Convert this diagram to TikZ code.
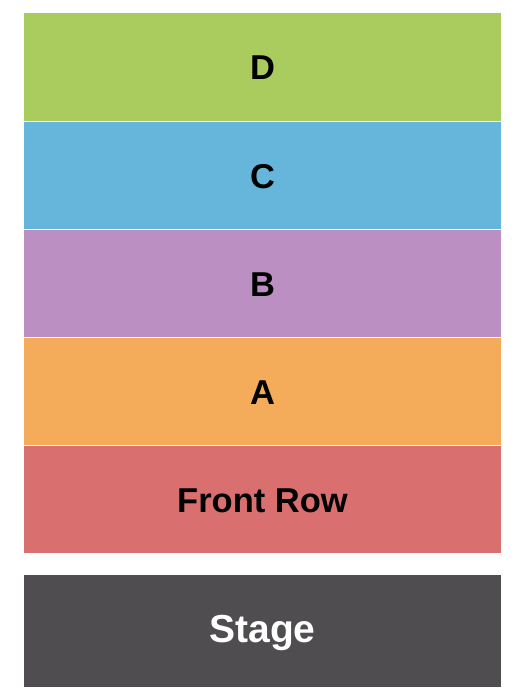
\documentclass[tikz,border=0pt]{standalone}
\usepackage{fontspec}
\setmainfont{Liberation Sans}
\definecolor{cD}{HTML}{AACB5E}
\definecolor{cC}{HTML}{66B5DB}
\definecolor{cB}{HTML}{BB8FC1}
\definecolor{cA}{HTML}{F4AC5B}
\definecolor{cF}{HTML}{D96F6E}
\definecolor{cS}{HTML}{4F4D50}
\begin{document}
\begin{tikzpicture}[x=1pt,y=-1pt,
  sect/.style={draw=none,inner sep=0pt,font=\fontsize{34.5}{38}\selectfont\bfseries,text=black}]
\useasboundingbox (0,0) rectangle (525,700);
\fill[white] (0,0) rectangle (525,700);
\fill[cD] (24,13) rectangle (501,121);
\fill[cC] (24,122) rectangle (501,229);
\fill[cB] (24,230) rectangle (501,337);
\fill[cA] (24,338) rectangle (501,445);
\fill[cF] (24,446) rectangle (501,553);
\fill[cS] (24,575) rectangle (501,687);
\node[sect] (d) at (262.5,68) {D};
\node[sect] (c) at (262.5,177) {C};
\node[sect] (b) at (262.5,285) {B};
\node[sect] (a) at (262.5,393) {A};
\node[sect] (fr) at (262.5,501) {Front Row};
\node[sect,text=white,font=\fontsize{39}{43}\selectfont\bfseries] (st) at (262.5,633) {Stage};
\end{tikzpicture}
\end{document}
